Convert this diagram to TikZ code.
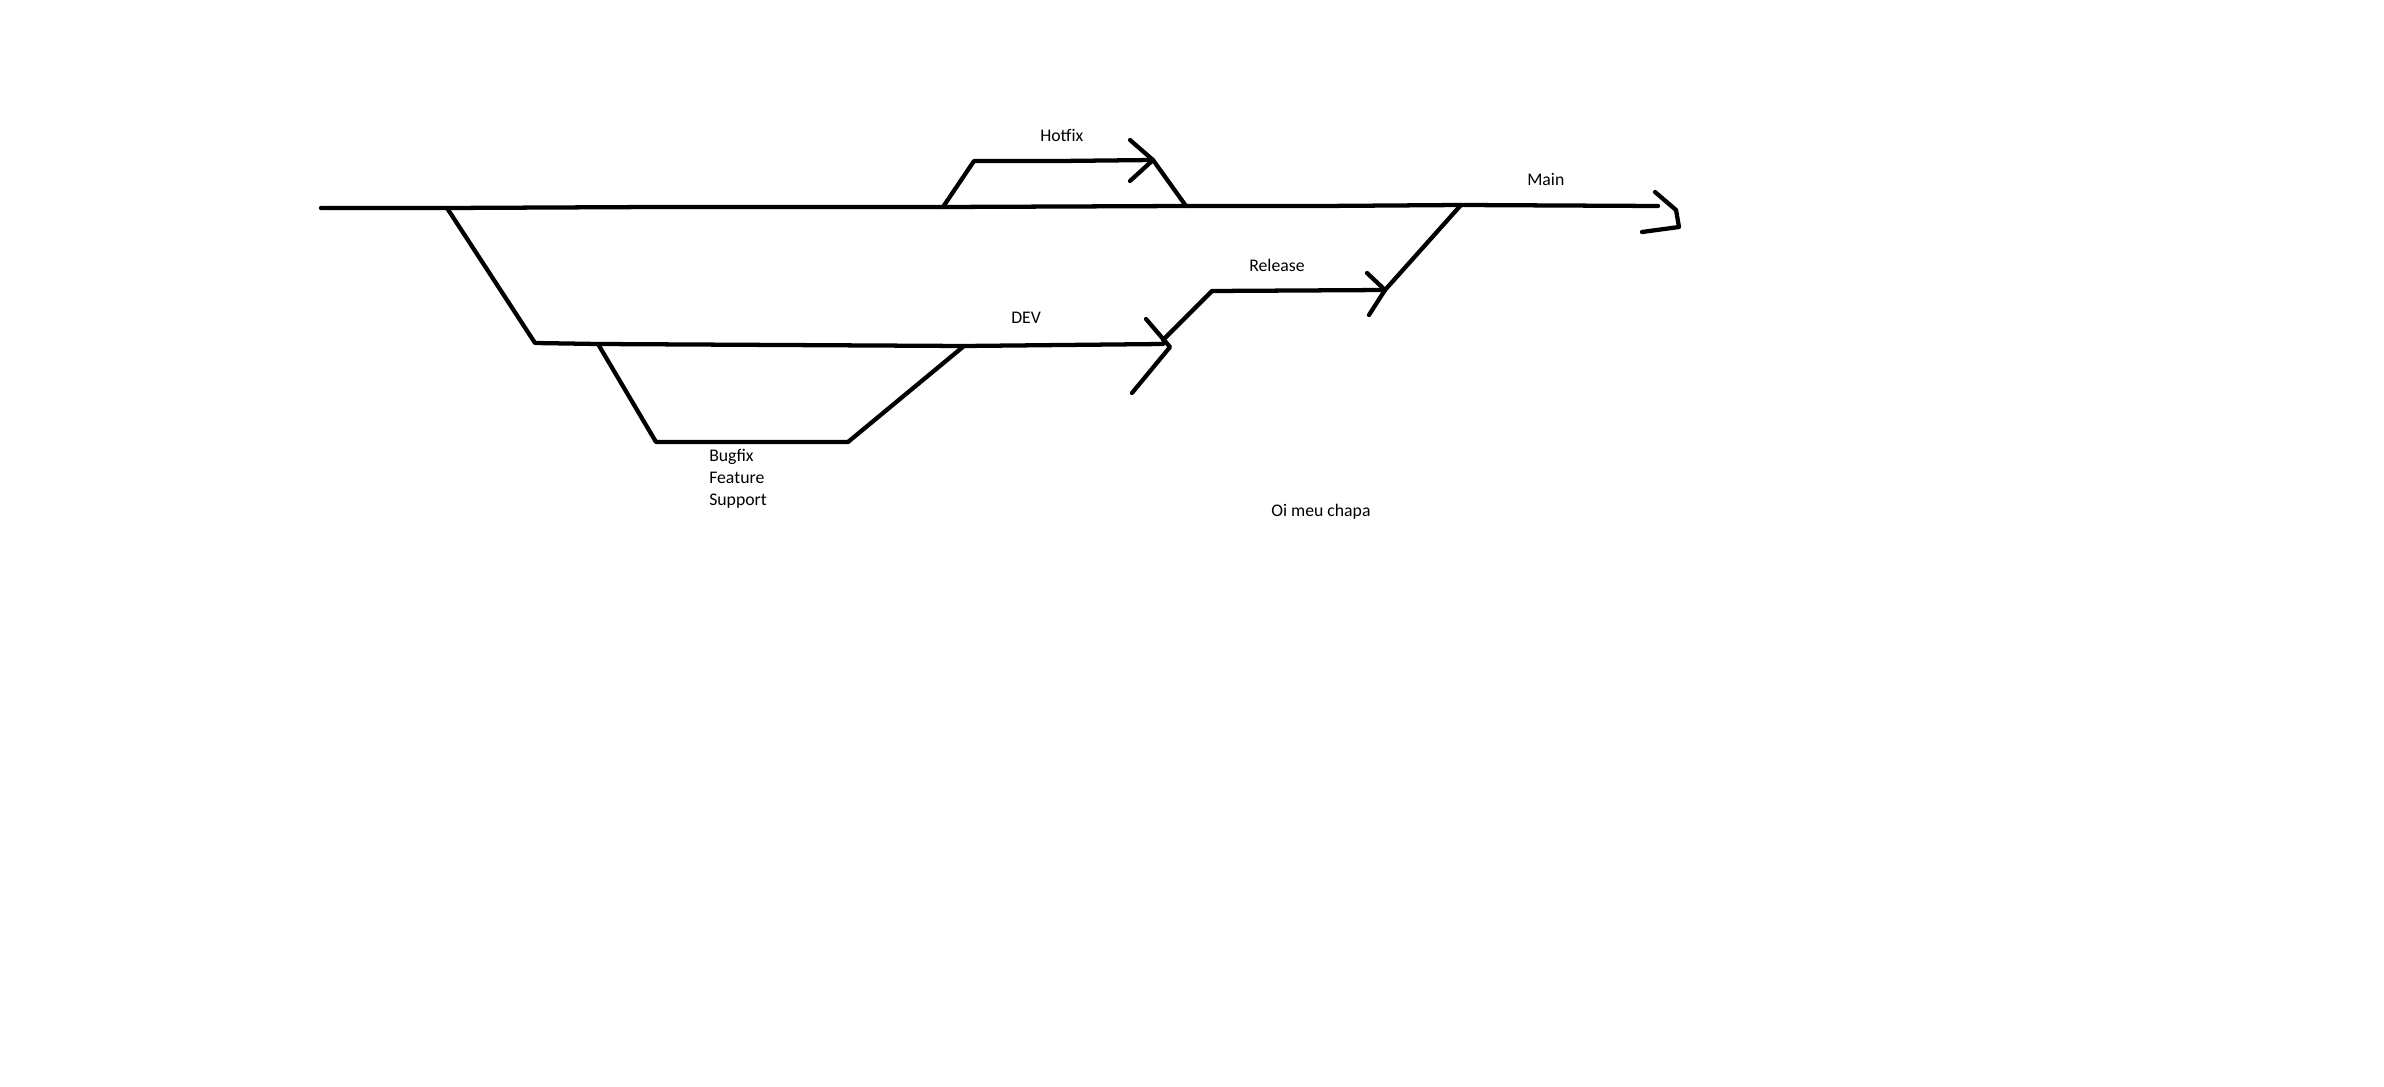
\documentclass[tikz,border=0pt]{standalone}
\usepackage{fontspec}
\setmainfont{Carlito}
\begin{document}
\begin{tikzpicture}[x=0.75pt,y=-0.75pt,
  stroke/.style={line width=3.2pt,line cap=round,line join=round,black},
  lbl/.style={anchor=base west,inner sep=0pt,font=\fontsize{13.3}{16}\selectfont}]
\useasboundingbox[fill=white] (0,0) rectangle (2384,1087);
% points
\coordinate (mStart) at (321,208);
\coordinate (mDev) at (447,208);
\coordinate (mMid) at (656,207);
\coordinate (hotStart) at (943,207);
\coordinate (hotBack) at (1186,206);
\coordinate (mMid2) at (1322,206);
\coordinate (relMerge) at (1461,205);
\coordinate (mainEnd) at (1658,206);
\coordinate (devCorner) at (535,343);
\coordinate (bugStart) at (598,344);
\coordinate (bugEnd) at (964,346);
\coordinate (devEnd) at (1163,344);
\coordinate (bugC1) at (656,442);
\coordinate (bugC2) at (848,442);
\coordinate (hotCorner) at (974,161);
\coordinate (hotMid) at (1060,161);
\coordinate (hotTip) at (1153,160);
\coordinate (relStart) at (1163,340);
\coordinate (relCorner) at (1212,291);
\coordinate (relTip) at (1385,290);
% arrow head points
\coordinate (hA1) at (1130,140);
\coordinate (hA2) at (1130,181);
\coordinate (rA1) at (1367,273);
\coordinate (rA2) at (1369,315);
\coordinate (dA1) at (1146,319);
\coordinate (dA2) at (1170,347);
\coordinate (dA3) at (1132,393);
\coordinate (mA1) at (1655,192);
\coordinate (mA2) at (1676,210);
\coordinate (mA3) at (1679,227);
\coordinate (mA4) at (1642,232);
% main line
\draw[stroke] (mStart) -- (mDev) -- (mMid) -- (hotStart) -- (hotBack) -- (mMid2) -- (relMerge) -- (mainEnd);
\draw[stroke] (mA1) -- (mA2) -- (mA3) -- (mA4);
% dev
\draw[stroke] (mDev) -- (devCorner) -- (bugStart) -- (bugEnd) -- (devEnd);
\draw[stroke] (dA1) -- (dA2) -- (dA3);
% bugfix
\draw[stroke] (bugStart) -- (bugC1) -- (bugC2) -- (bugEnd);
% hotfix
\draw[stroke] (hotStart) -- (hotCorner) -- (hotMid) -- (hotTip) -- (hotBack);
\draw[stroke] (hA1) -- (hotTip) -- (hA2);
% release
\draw[stroke] (relStart) -- (relCorner) -- (relTip);
\draw[stroke] (relMerge) -- (relTip);
\draw[stroke] (rA1) -- (relTip) -- (rA2);
% labels
\node[lbl] (lHot) at (1040,142) {Hotfix};
\node[lbl] (lMain) at (1527,186) {Main};
\node[lbl] (lRel) at (1249,272) {Release};
\node[lbl] (lDev) at (1011,324) {DEV};
\node[lbl] (lBug) at (709,461) {Bugfix};
\node[lbl] (lFeat) at (709,483) {Feature};
\node[lbl] (lSup) at (709,505) {Support};
\node[lbl] (lOi) at (1271,516) {Oi meu chapa};
\end{tikzpicture}
\end{document}
